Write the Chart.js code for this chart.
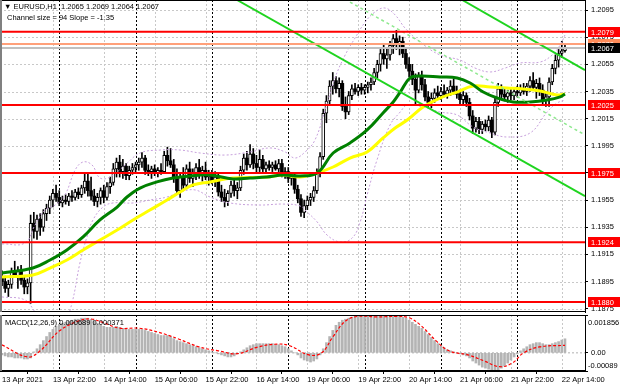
<!DOCTYPE html>
<html>
<head>
<meta charset="utf-8">
<script src="https://cdn.jsdelivr.net/npm/chart.js@4.4.0/dist/chart.umd.min.js"></script>
<style>
  body { margin:0; background:#fff; width:620px; height:388px; overflow:hidden; position:relative; font-family:"Liberation Sans", Arial, sans-serif; }
  canvas { position:absolute; left:0; }
  #main { top:0; }
  #macd { top:313px; }
  .t { position:absolute; font-size:7.5px; color:#000; white-space:pre; line-height:9px; }
</style>
</head>
<body>
<canvas id="main" width="620" height="313"></canvas>
<canvas id="macd" width="620" height="75"></canvas>
<div class="t" style="left:4px;top:2px">▼ EURUSD,H1  1.2065 1.2069 1.2064 1.2067</div>
<div class="t" style="left:7px;top:13px">Channel size = 94 Slope = -1.35</div>
<div class="t" style="left:5px;top:318px">MACD(12,26,9) 0.000689 0.000371</div>
<script>
// EURUSD H1, bar 0 = 13 Apr 2021 06:00, last bar = 22 Apr 15:00
const opens = [
  1.1898,1.1895,1.1890,1.1893,1.1902,1.1899,1.1903,1.1896,1.1891,1.1894,
  1.1938,1.1932,1.1941,1.1935,1.1945,1.1949,1.1955,1.1960,1.1957,1.1953,
  1.1955,1.1954,1.1958,1.1957,1.1961,1.1959,1.1964,1.1969,1.1962,1.1958,
  1.1954,1.1957,1.1962,1.1957,1.1965,1.1968,1.1978,1.1983,1.1976,1.1980,
  1.1973,1.1977,1.1979,1.1981,1.1983,1.1986,1.1977,1.1976,1.1978,1.1975,
  1.1977,1.1976,1.1988,1.1984,1.1981,1.1971,1.1962,1.1972,1.1966,1.1978,
  1.1971,1.1975,1.1979,1.1974,1.1977,1.1972,1.1974,1.1969,1.1972,1.1961,
  1.1957,1.1954,1.1960,1.1966,1.1962,1.1964,1.1977,1.1986,1.1981,1.1989,
  1.1982,1.1979,1.1985,1.1978,1.1981,1.1979,1.1981,1.1978,1.1982,1.1975,
  1.1976,1.1971,1.1973,1.1963,1.1956,1.1946,1.1951,1.1955,1.1957,1.1962,
  1.1975,1.1987,1.2019,1.2028,1.2039,1.2043,1.2037,1.2041,1.2024,1.2020,
  1.2032,1.2037,1.2035,1.2038,1.2036,1.2038,1.2040,1.2042,1.2049,1.2055,
  1.2063,1.2059,1.2062,1.2069,1.2074,1.2070,1.2072,1.2063,1.2055,1.2050,
  1.2044,1.2036,1.2046,1.2040,1.2031,1.2027,1.2030,1.2034,1.2032,1.2035,
  1.2033,1.2036,1.2039,1.2035,1.2033,1.2029,1.2032,1.2027,1.2017,1.2008,
  1.2013,1.2007,1.2011,1.2009,1.2014,1.2005,1.2027,1.2037,1.2033,1.2031,
  1.2034,1.2032,1.2035,1.2034,1.2037,1.2035,1.2039,1.2043,1.2038,1.2041,
  1.2036,1.2028,1.2031,1.2042,1.2052,1.2058,1.2063,1.2065
];
const highs = [
  1.1903,1.1899,1.1896,1.1905,1.1910,1.1906,1.1907,1.1899,1.1897,1.1944,
  1.1946,1.1944,1.1945,1.1948,1.1952,1.1958,1.1963,1.1966,1.1962,1.1958,
  1.1959,1.1960,1.1962,1.1963,1.1964,1.1966,1.1974,1.1975,1.1972,1.1963,
  1.1960,1.1964,1.1966,1.1968,1.1972,1.1982,1.1986,1.1988,1.1985,1.1982,
  1.1980,1.1982,1.1983,1.1986,1.1990,1.1988,1.1981,1.1980,1.1981,1.1979,
  1.1982,1.1991,1.1994,1.1993,1.1985,1.1978,1.1975,1.1979,1.1981,1.1983,
  1.1978,1.1982,1.1985,1.1980,1.1983,1.1977,1.1977,1.1976,1.1975,1.1966,
  1.1963,1.1962,1.1969,1.1971,1.1968,1.1980,1.1989,1.1991,1.1996,1.1993,
  1.1988,1.1992,1.1988,1.1983,1.1984,1.1983,1.1984,1.1985,1.1985,1.1979,
  1.1979,1.1975,1.1975,1.1966,1.1959,1.1955,1.1958,1.1960,1.1965,1.1978,
  1.1990,1.2022,1.2032,1.2043,1.2049,1.2046,1.2045,1.2043,1.2031,1.2035,
  1.2040,1.2041,1.2040,1.2041,1.2040,1.2042,1.2045,1.2052,1.2058,1.2066,
  1.2070,1.2066,1.2072,1.2077,1.2080,1.2076,1.2075,1.2066,1.2060,1.2055,
  1.2048,1.2049,1.2050,1.2044,1.2035,1.2034,1.2037,1.2039,1.2038,1.2040,
  1.2038,1.2043,1.2044,1.2039,1.2036,1.2035,1.2034,1.2030,1.2021,1.2016,
  1.2016,1.2013,1.2014,1.2017,1.2016,1.2030,1.2041,1.2040,1.2037,1.2036,
  1.2037,1.2037,1.2039,1.2040,1.2041,1.2041,1.2046,1.2049,1.2044,1.2045,
  1.2040,1.2034,1.2045,1.2055,1.2062,1.2066,1.2072,1.2069
];
const lows = [
  1.1892,1.1887,1.1884,1.1890,1.1898,1.1890,1.1893,1.1886,1.1886,1.1879,
  1.1927,1.1926,1.1929,1.1932,1.1940,1.1945,1.1950,1.1954,1.1951,1.1950,
  1.1952,1.1951,1.1954,1.1955,1.1956,1.1957,1.1960,1.1958,1.1955,1.1951,
  1.1950,1.1952,1.1953,1.1955,1.1960,1.1966,1.1972,1.1972,1.1971,1.1970,
  1.1970,1.1974,1.1975,1.1977,1.1979,1.1974,1.1973,1.1971,1.1973,1.1972,
  1.1974,1.1975,1.1980,1.1979,1.1968,1.1959,1.1957,1.1962,1.1964,1.1968,
  1.1965,1.1970,1.1971,1.1969,1.1970,1.1966,1.1967,1.1965,1.1958,1.1954,
  1.1950,1.1951,1.1957,1.1958,1.1956,1.1962,1.1974,1.1977,1.1979,1.1978,
  1.1975,1.1976,1.1976,1.1975,1.1977,1.1976,1.1977,1.1976,1.1972,1.1971,
  1.1968,1.1966,1.1960,1.1953,1.1943,1.1942,1.1948,1.1951,1.1954,1.1960,
  1.1972,1.1985,1.2012,1.2025,1.2033,1.2034,1.2031,1.2021,1.2015,1.2018,
  1.2029,1.2033,1.2032,1.2033,1.2033,1.2034,1.2036,1.2040,1.2045,1.2050,
  1.2055,1.2052,1.2058,1.2063,1.2066,1.2062,1.2060,1.2052,1.2046,1.2040,
  1.2026,1.2034,1.2036,1.2028,1.2024,1.2023,1.2027,1.2030,1.2029,1.2031,
  1.2030,1.2032,1.2033,1.2030,1.2026,1.2025,1.2024,1.2014,1.2004,1.2005,
  1.2004,1.2004,1.2006,1.2006,1.2001,1.2003,1.2024,1.2030,1.2028,1.2027,
  1.2029,1.2029,1.2031,1.2032,1.2033,1.2032,1.2035,1.2036,1.2030,1.2032,
  1.2025,1.2024,1.2024,1.2040,1.2048,1.2053,1.2060,1.2064
];
const closes = [
  1.1895,1.1890,1.1893,1.1902,1.1899,1.1903,1.1896,1.1891,1.1894,1.1938,
  1.1932,1.1941,1.1935,1.1945,1.1949,1.1955,1.1960,1.1957,1.1953,1.1955,
  1.1954,1.1958,1.1957,1.1961,1.1959,1.1964,1.1969,1.1962,1.1958,1.1954,
  1.1957,1.1962,1.1957,1.1965,1.1968,1.1978,1.1983,1.1976,1.1980,1.1973,
  1.1977,1.1979,1.1981,1.1983,1.1986,1.1977,1.1976,1.1978,1.1975,1.1977,
  1.1976,1.1988,1.1984,1.1981,1.1971,1.1962,1.1972,1.1966,1.1978,1.1971,
  1.1975,1.1979,1.1974,1.1977,1.1972,1.1974,1.1969,1.1972,1.1961,1.1957,
  1.1954,1.1960,1.1966,1.1962,1.1964,1.1977,1.1986,1.1981,1.1989,1.1982,
  1.1979,1.1985,1.1978,1.1981,1.1979,1.1981,1.1978,1.1982,1.1975,1.1976,
  1.1971,1.1973,1.1963,1.1956,1.1946,1.1951,1.1955,1.1957,1.1962,1.1975,
  1.1987,1.2019,1.2028,1.2039,1.2043,1.2037,1.2041,1.2024,1.2020,1.2032,
  1.2037,1.2035,1.2038,1.2036,1.2038,1.2040,1.2042,1.2049,1.2055,1.2063,
  1.2059,1.2062,1.2069,1.2074,1.2070,1.2072,1.2063,1.2055,1.2050,1.2044,
  1.2036,1.2046,1.2040,1.2031,1.2027,1.2030,1.2034,1.2032,1.2035,1.2033,
  1.2036,1.2039,1.2035,1.2033,1.2029,1.2032,1.2027,1.2017,1.2008,1.2013,
  1.2007,1.2011,1.2009,1.2014,1.2005,1.2027,1.2037,1.2033,1.2031,1.2034,
  1.2032,1.2035,1.2034,1.2037,1.2035,1.2039,1.2043,1.2038,1.2041,1.2036,
  1.2028,1.2031,1.2042,1.2052,1.2058,1.2063,1.2065,1.2067
];

// time axis (bar index of each label) and day separators
const timeLabels = ['13 Apr 2021','13 Apr 22:00','14 Apr 14:00','15 Apr 06:00','15 Apr 22:00','16 Apr 14:00',
                    '19 Apr 06:00','19 Apr 22:00','20 Apr 14:00','21 Apr 06:00','21 Apr 22:00','22 Apr 14:00'];
const timeLabelBars = [0,16,32,48,64,80,96,112,128,144,160,176];
const daySepBars = [18,42,66,90,114,138,162];
const xMin = -0.63, xMax = 183.3;

const priceTicks = [1.1875,1.1895,1.1915,1.1935,1.1955,1.1975,1.1995,1.2015,1.2035,1.2055,1.2075,1.2095];
const priceMin = 1.18726, priceMax = 1.21024;
const redLevels = [1.2079,1.2025,1.1975,1.1924,1.1880];
const orangeLevel = 1.2070;
const lastPrice = 1.2067;

// moving averages (bar index, price)
const maGreenBars = [0,9.7,15.1,20.4,25.5,30.8,36.2,39.3,43.4,48.7,53.8,59.1,65.4,72.6,78,83.3,88.4,93.7,99.1,104.1,109.4,114.8,119.8,123,125.2,128.3,131.4,137.7,143.1,147.2,151.3,155.7,160.7,166,171.4,175.5,177];
const maGreen = [1.19013,1.19050,1.19109,1.19183,1.19279,1.19404,1.19499,1.19573,1.19639,1.19684,1.19713,1.19728,1.19735,1.19706,1.19713,1.19720,1.19735,1.19728,1.19750,1.19897,1.19971,1.20067,1.20192,1.20273,1.20346,1.20450,1.20464,1.20457,1.20450,1.20413,1.20346,1.20302,1.20273,1.20273,1.20287,1.20310,1.20332];
const maYellowBars = [0,9.7,15.1,20.4,25.5,30.8,36.2,41.2,46.5,51.9,56,60.1,65.4,72.6,83.3,88.4,93.7,99.1,104.1,109.4,114.8,119.8,123.6,127.4,132.4,137.7,143.1,148.1,153.5,158.8,163.8,169.2,174.5,177];
const maYellow = [1.18984,1.18999,1.19050,1.19109,1.19183,1.19256,1.19330,1.19404,1.19477,1.19551,1.19610,1.19662,1.19684,1.19713,1.19720,1.19735,1.19720,1.19750,1.19794,1.19860,1.19905,1.20008,1.20081,1.20140,1.20236,1.20302,1.20346,1.20391,1.20383,1.20376,1.20369,1.20354,1.20324,1.20332];

// bollinger envelope
const bbUpperBars = [0,7.2,10.4,13.5,16.7,19.8,23,25.5,28.3,30.8,34,38.7,43.4,49.7,56,62.3,70.1,78,84.3,89,92.1,95.3,98.4,101.6,104.7,107.9,111,114.2,117.3,120.4,123.6,126.7,131.4,137.7,144,148.7,153.5,158.2,162.9,169.2,173,175.5,177];
const bbUpper = [1.19227,1.19234,1.19367,1.19477,1.19514,1.19588,1.19772,1.19831,1.19809,1.19713,1.19720,1.19809,1.19897,1.19919,1.19919,1.19897,1.19882,1.19905,1.19934,1.19905,1.19860,1.19905,1.19993,1.20214,1.20450,1.20619,1.20744,1.20862,1.20936,1.20965,1.20914,1.20818,1.20715,1.20619,1.20582,1.20523,1.20494,1.20523,1.20560,1.20567,1.20619,1.20693,1.20766];
const bbLowerBars = [0,7.2,10.4,15.1,19.8,22,24.5,26.7,28.6,31.8,34.9,41.2,46.5,51.9,56,60.7,65.4,71.7,81.1,88.4,93.7,95.9,99.1,102.2,106.3,110.1,112.6,114.8,117.9,122,125.2,127.4,132.4,137.7,143.1,148.1,153.5,158.8,166,171.4,174.5,177];
const bbLower = [1.18837,1.18815,1.18726,1.18594,1.18667,1.18792,1.19087,1.19279,1.19404,1.19500,1.19529,1.19529,1.19551,1.19573,1.19610,1.19625,1.19573,1.19529,1.19514,1.19521,1.19507,1.19463,1.19389,1.19293,1.19242,1.19271,1.19389,1.19588,1.19846,1.20103,1.20199,1.20251,1.20236,1.20199,1.20177,1.20089,1.20044,1.20015,1.20044,1.20199,1.20265,1.20287];

// channel lines: [bar, price] at both ends
const channelLines = [
  [[73.9, 1.21024], [183.3, 1.19580]],
  [[144.7, 1.21024], [183.3, 1.20508]]
];
const channelMid = [[109.4, 1.21009], [183.3, 1.20030]];

// MACD(12,26,9)
const macdHist = [
  -0.00010,-0.00015,-0.00020,-0.00020,-0.00025,-0.00025,-0.00025,-0.00030,-0.00030,-0.00025,
  0.00005,0.00020,0.00040,0.00060,0.00080,0.00100,0.00115,0.00130,0.00140,0.00145,
  0.00150,0.00155,0.00160,0.00165,0.00165,0.00170,0.00170,0.00170,0.00165,0.00155,
  0.00145,0.00135,0.00130,0.00125,0.00125,0.00125,0.00130,0.00125,0.00120,0.00115,
  0.00115,0.00115,0.00115,0.00115,0.00115,0.00110,0.00105,0.00100,0.00095,0.00090,
  0.00085,0.00085,0.00085,0.00080,0.00070,0.00060,0.00055,0.00050,0.00045,0.00040,
  0.00035,0.00030,0.00025,0.00020,0.00015,0.00010,0.00005,0.00000,-0.00005,-0.00010,
  -0.00015,-0.00020,-0.00020,-0.00015,-0.00005,0.00005,0.00015,0.00025,0.00035,0.00040,
  0.00045,0.00045,0.00045,0.00045,0.00045,0.00045,0.00040,0.00040,0.00035,0.00030,
  0.00020,0.00010,0.00000,-0.00010,-0.00025,-0.00035,-0.00040,-0.00045,-0.00040,-0.00030,
  -0.00010,0.00020,0.00050,0.00080,0.00110,0.00135,0.00150,0.00160,0.00165,0.00170,
  0.00175,0.00180,0.00183,0.001856,0.00185,0.00185,0.00185,0.00180,0.00180,0.00180,
  0.00183,0.00183,0.00183,0.00183,0.00182,0.00180,0.00175,0.00170,0.00160,0.00150,
  0.00140,0.00130,0.00120,0.00105,0.00090,0.00075,0.00060,0.00045,0.00035,0.00025,
  0.00015,0.00010,0.00005,0.00000,-0.00005,-0.00010,-0.00015,-0.00025,-0.00040,-0.00050,
  -0.00060,-0.00070,-0.00075,-0.00080,-0.00085,-0.00089,-0.00085,-0.00075,-0.00065,-0.00050,
  -0.00035,-0.00020,-0.00005,0.00010,0.00020,0.00030,0.00040,0.00045,0.00050,0.00050,
  0.00045,0.00040,0.00040,0.00045,0.00050,0.00055,0.00063,0.000689
];
const signalBars = [0,8,12,18,24,28,32,37,43,49,55.5,62,68,74,80.5,86.5,90.5,96.5,100.5,104,108,112,118,124,128,131.5,136.5,140.5,146.5,151.5,156.5,160.5,164,169,177];
const signalVals = [0.00039,-0.00020,0.00010,0.00107,0.00156,0.00166,0.00147,0.00121,0.00121,0.00102,0.00068,0.00029,0.00010,-0.00004,0.00029,0.00043,0.00035,-0.00010,0.00000,0.00078,0.00156,0.00179,0.00176,0.00179,0.00172,0.00137,0.00059,0.00010,-0.00010,-0.00039,-0.00068,-0.00049,0.00000,0.00029,0.000371];
const macdMax = 0.001856, macdMin = -0.00089;

const FONT = { family: 'Liberation Sans', size: 7.5 };
const pts = (xs, ys) => xs.map((x, i) => ({ x, y: ys[i] }));
const seg = (a, b) => [{ x: a[0], y: a[1] }, { x: b[0], y: b[1] }];

// dashed grid + frame, drawn through the chart's scales
function mtGrid(hValues) {
  return {
    id: 'mtGrid',
    beforeDatasetsDraw(c) {
      const { ctx, chartArea: a, scales: { x, y } } = c;
      ctx.save();
      ctx.lineWidth = 1;
      ctx.setLineDash([2, 2]);
      ctx.strokeStyle = '#c8c8c8';
      hValues.forEach(v => {
        const py = Math.round(y.getPixelForValue(v)) + 0.5;
        ctx.beginPath(); ctx.moveTo(a.left, py); ctx.lineTo(a.right, py); ctx.stroke();
      });
      timeLabelBars.slice(1).forEach(b => {
        const px = Math.round(x.getPixelForValue(b)) + 0.5;
        ctx.beginPath(); ctx.moveTo(px, a.top); ctx.lineTo(px, a.bottom); ctx.stroke();
      });
      ctx.strokeStyle = '#000';
      ctx.setLineDash([2, 2]);
      daySepBars.forEach(b => {
        const px = Math.round(x.getPixelForValue(b)) + 0.5;
        ctx.beginPath(); ctx.moveTo(px, a.top); ctx.lineTo(px, a.bottom); ctx.stroke();
      });
      ctx.restore();
    },
    afterDraw(c) {
      const { ctx, chartArea: a } = c;
      ctx.save();
      ctx.strokeStyle = '#000';
      ctx.lineWidth = 1;
      ctx.strokeRect(a.left + 0.5, a.top + 0.5, a.right - a.left, a.bottom - a.top - 1);
      ctx.fillStyle = '#808080';
      ctx.fillRect(0, a.top, 2, a.bottom - a.top);
      ctx.restore();
    }
  };
}

function tag(ctx, py, left, text, bg, fg) {
  const y0 = Math.round(py);
  ctx.fillStyle = bg;
  ctx.fillRect(left + 3, y0 - 5, 32, 10);
  ctx.fillStyle = fg;
  ctx.fillText(text, left + 6, y0 + 0.5);
}

const priceTags = {
  id: 'priceTags',
  afterDraw(c) {
    const { ctx, chartArea: a, scales: { y } } = c;
    ctx.save();
    ctx.font = '7.5px "Liberation Sans"';
    ctx.textBaseline = 'middle';
    redLevels.forEach(v => tag(ctx, y.getPixelForValue(v), a.right, v.toFixed(4), '#ff0000', '#fff'));
    tag(ctx, y.getPixelForValue(orangeLevel), a.right, orangeLevel.toFixed(4), '#ff8c5a', '#fff');
    tag(ctx, y.getPixelForValue(lastPrice), a.right, lastPrice.toFixed(4), '#000', '#fff');
    ctx.restore();
  }
};

const idx = closes.map((_, i) => i);
const lineDs = (data, color, width, extra) => Object.assign({
  type: 'line', data, borderColor: color, borderWidth: width, pointRadius: 0, fill: false, clip: 0
}, extra || {});

new Chart(document.getElementById('main'), {
  type: 'bar',
  data: {
    datasets: [
      ...redLevels.map(v => lineDs(seg([xMin, v], [xMax, v]), '#ff0000', 2, { order: 1 })),
      lineDs(seg([xMin, lastPrice], [xMax, lastPrice]), '#c0c0c0', 2, { order: 3 }),
      lineDs(seg([xMin, orangeLevel], [xMax, orangeLevel]), '#ffa07a', 2, { order: 2 }),
      ...channelLines.map(l => lineDs(seg(l[0], l[1]), '#1fd41f', 2, { order: 2 })),
      lineDs(seg(channelMid[0], channelMid[1]), '#8ee88e', 1.5, { order: 2, borderDash: [3, 3] }),
      lineDs(pts(maGreenBars, maGreen), '#008000', 3, { order: 4, tension: 0.4 }),
      lineDs(pts(maYellowBars, maYellow), '#ffff00', 3, { order: 5, tension: 0.4 }),
      lineDs(pts(bbUpperBars, bbUpper), '#c7a0dc', 1, { order: 6, tension: 0.4, borderDash: [2, 2] }),
      lineDs(pts(bbLowerBars, bbLower), '#c7a0dc', 1, { order: 6, tension: 0.4, borderDash: [2, 2] }),
      { type: 'bar', order: 20, grouped: false, barThickness: 1, backgroundColor: '#000',
        data: idx.map(i => ({ x: i, y: [lows[i], highs[i]] })) },
      { type: 'bar', order: 19, grouped: false, barThickness: 3, minBarLength: 1,
        backgroundColor: '#fff', borderColor: '#000', borderWidth: 1, borderSkipped: false,
        data: idx.filter(i => closes[i] >= opens[i]).map(i => ({ x: i, y: [opens[i], closes[i]] })) },
      { type: 'bar', order: 19, grouped: false, barThickness: 3, minBarLength: 1, backgroundColor: '#000',
        data: idx.filter(i => closes[i] < opens[i]).map(i => ({ x: i, y: [opens[i], closes[i]] })) }
    ]
  },
  options: {
    responsive: false, animation: false, devicePixelRatio: 1,
    layout: { padding: { left: 0, right: 0, top: 0, bottom: 1 } },
    plugins: { legend: { display: false }, tooltip: { enabled: false } },
    scales: {
      x: { type: 'linear', min: xMin, max: xMax, display: false, offset: false },
      y: {
        type: 'linear', position: 'right', min: priceMin, max: priceMax,
        afterBuildTicks: s => { s.ticks = priceTicks.map(v => ({ value: v })); },
        afterFit: s => { s.width = 35; s.paddingTop = 0; s.paddingBottom = 0; },
        ticks: { callback: v => v.toFixed(4), font: FONT, color: '#000', padding: 3, autoSkip: false },
        grid: { drawOnChartArea: false, tickLength: 3, tickColor: '#000' },
        border: { color: '#000' }
      }
    }
  },
  plugins: [mtGrid(priceTicks), priceTags]
});

const macdTags = {
  id: 'macdTags',
  afterDraw(c) {
    const { ctx, chartArea: a } = c;
    ctx.save();
    ctx.font = '7.5px "Liberation Sans"';
    ctx.fillStyle = '#000';
    ctx.textBaseline = 'top';
    ctx.fillText(String(macdMax), a.right + 3, a.top + 4);
    ctx.textBaseline = 'bottom';
    ctx.fillText(String(macdMin), a.right + 3, a.bottom - 1);
    ctx.restore();
  }
};

new Chart(document.getElementById('macd'), {
  type: 'bar',
  data: {
    datasets: [
      lineDs(seg([xMin, 0], [xMax, 0]), '#b0b0b0', 1, { order: 3, borderDash: [2, 2] }),
      lineDs(pts(signalBars, signalVals), '#ff0000', 1.2, { order: 1, tension: 0.4, borderDash: [3, 2] }),
      { type: 'bar', order: 5, grouped: false, barThickness: 2, backgroundColor: '#b4b4b4',
        data: idx.map(i => ({ x: i, y: macdHist[i] })) }
    ]
  },
  options: {
    responsive: false, animation: false, devicePixelRatio: 1,
    layout: { padding: { left: 0, right: 0, top: 2, bottom: 0 } },
    plugins: { legend: { display: false }, tooltip: { enabled: false } },
    scales: {
      x: {
        type: 'linear', min: xMin, max: xMax, offset: false,
        afterBuildTicks: s => { s.ticks = timeLabelBars.map(v => ({ value: v })); },
        afterFit: s => { s.height = 17; s.paddingLeft = 0; s.paddingRight = 0; },
        ticks: { callback: (v, i) => timeLabels[i], align: 'start', font: FONT, color: '#000',
                 maxRotation: 0, autoSkip: false, padding: 1 },
        grid: { drawOnChartArea: false, tickLength: 3, tickColor: '#000' },
        border: { color: '#000' }
      },
      y: {
        type: 'linear', position: 'right', min: macdMin, max: macdMax,
        afterBuildTicks: s => { s.ticks = [macdMin, 0, macdMax].map(v => ({ value: v })); },
        afterFit: s => { s.width = 35; s.paddingTop = 0; s.paddingBottom = 0; },
        ticks: { callback: v => (v === 0 ? '0.00' : ''), font: FONT, color: '#000', padding: 3, autoSkip: false },
        grid: { drawOnChartArea: false, tickLength: 3, tickColor: '#000' },
        border: { color: '#000' }
      }
    }
  },
  plugins: [mtGrid([]), macdTags]
});
</script>
</body>
</html>
